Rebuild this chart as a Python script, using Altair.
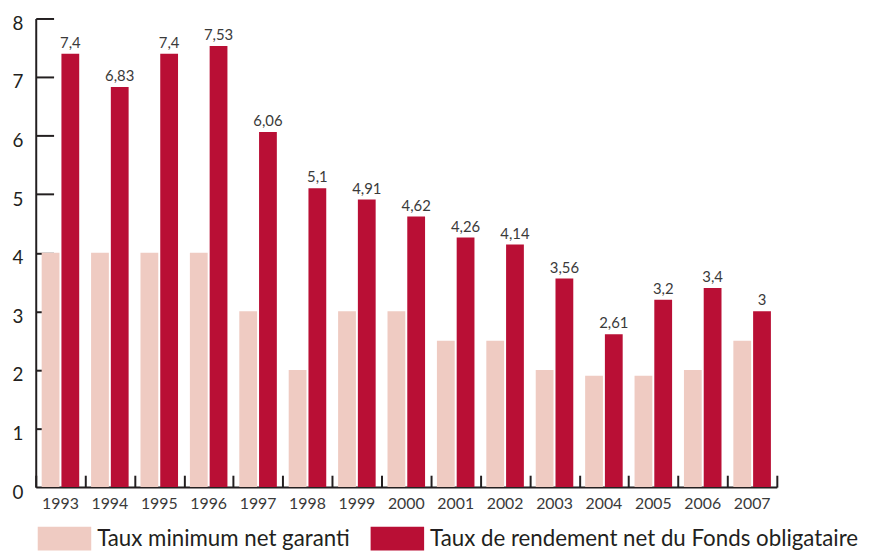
import altair as alt
import pandas as pd

years = [str(y) for y in range(1993, 2008)]
taux_min = [4, 4, 4, 4, 3, 2, 3, 3, 2.5, 2.5, 2, 1.9, 1.9, 2, 2.5]
taux_fonds = [7.4, 6.83, 7.4, 7.53, 6.06, 5.1, 4.91, 4.62, 4.26, 4.14, 3.56, 2.61, 3.2, 3.4, 3.0]
series = ["Taux minimum net garanti", "Taux de rendement net du Fonds obligataire"]
colors = ["#efcbc2", "#b90f35"]
y_labels = list(range(0, 9))
y_ticks = list(range(1, 9))

rows = []
for i, yr in enumerate(years):
    rows.append({"year": yr, "serie": series[0], "value": taux_min[i], "label": ""})
    rows.append({"year": yr, "serie": series[1], "value": taux_fonds[i],
                 "label": f"{taux_fonds[i]:g}".replace(".", ",")})
df = pd.DataFrame(rows)

W, H = 748, 473
FONT = "Lato"
INK = "#231f20"
GREY = "#3a3a3a"

xscale = alt.Scale(paddingInner=0, paddingOuter=0)
yscale = alt.Scale(domain=[0, 8], nice=False)
xo = alt.XOffset("serie:N", sort=series, scale=alt.Scale(paddingInner=0.1, paddingOuter=0.3))

bars = alt.Chart(df).mark_bar().encode(
    x=alt.X("year:N", sort=years, scale=xscale,
            axis=alt.Axis(title=None, labelAngle=0, ticks=False, domainColor=INK, domainWidth=2,
                          labelFont=FONT, labelFontSize=16, labelColor=GREY, labelPadding=9)),
    xOffset=xo,
    y=alt.Y("value:Q", scale=yscale,
            axis=alt.Axis(title=None, values=y_labels, ticks=False, grid=False, domainColor=INK,
                          domainWidth=2, labelFont=FONT, labelFontSize=19, labelColor=INK,
                          labelPadding=13, labelBaseline="middle", labelOffset=5)),
    color=alt.Color("serie:N", sort=series, scale=alt.Scale(domain=series, range=colors),
                    legend=alt.Legend(title=None, orient="none", legendX=17, legendY=513,
                                      direction="horizontal",
                                      symbolType="M-2.25,-1H2.25V1H-2.25Z", symbolSize=576,
                                      symbolStrokeWidth=0, symbolOpacity=1,
                                      labelFont=FONT, labelFontSize=22.5, labelColor=INK,
                                      labelOffset=21, columnPadding=20, labelLimit=0)),
)

labels = alt.Chart(df).mark_text(baseline="alphabetic", dy=-6, font=FONT, fontSize=15,
                                 color=GREY).encode(
    x=alt.X("year:N", sort=years, scale=xscale,
            axis=alt.Axis(title=None, orient="top", offset=-H, labels=False, domain=False,
                          tickBand="extent", tickSize=12, tickWidth=2, tickColor=INK)),
    xOffset=xo,
    y=alt.Y("value:Q", scale=yscale,
            axis=alt.Axis(title=None, orient="right", offset=-W, labels=False, domain=False,
                          grid=False, values=y_ticks, tickSize=18, tickWidth=2, tickColor=INK)),
    text="label:N",
)

chart = alt.layer(bars, labels).resolve_axis(x="independent", y="independent").properties(
    width=W, height=H,
    autosize=alt.AutoSizeParams(type="none"),
    padding={"left": 28, "top": 8, "right": 90, "bottom": 72},
).configure_view(stroke=None)

chart.save("out.html", embed_options={"renderer": "svg", "actions": False})
